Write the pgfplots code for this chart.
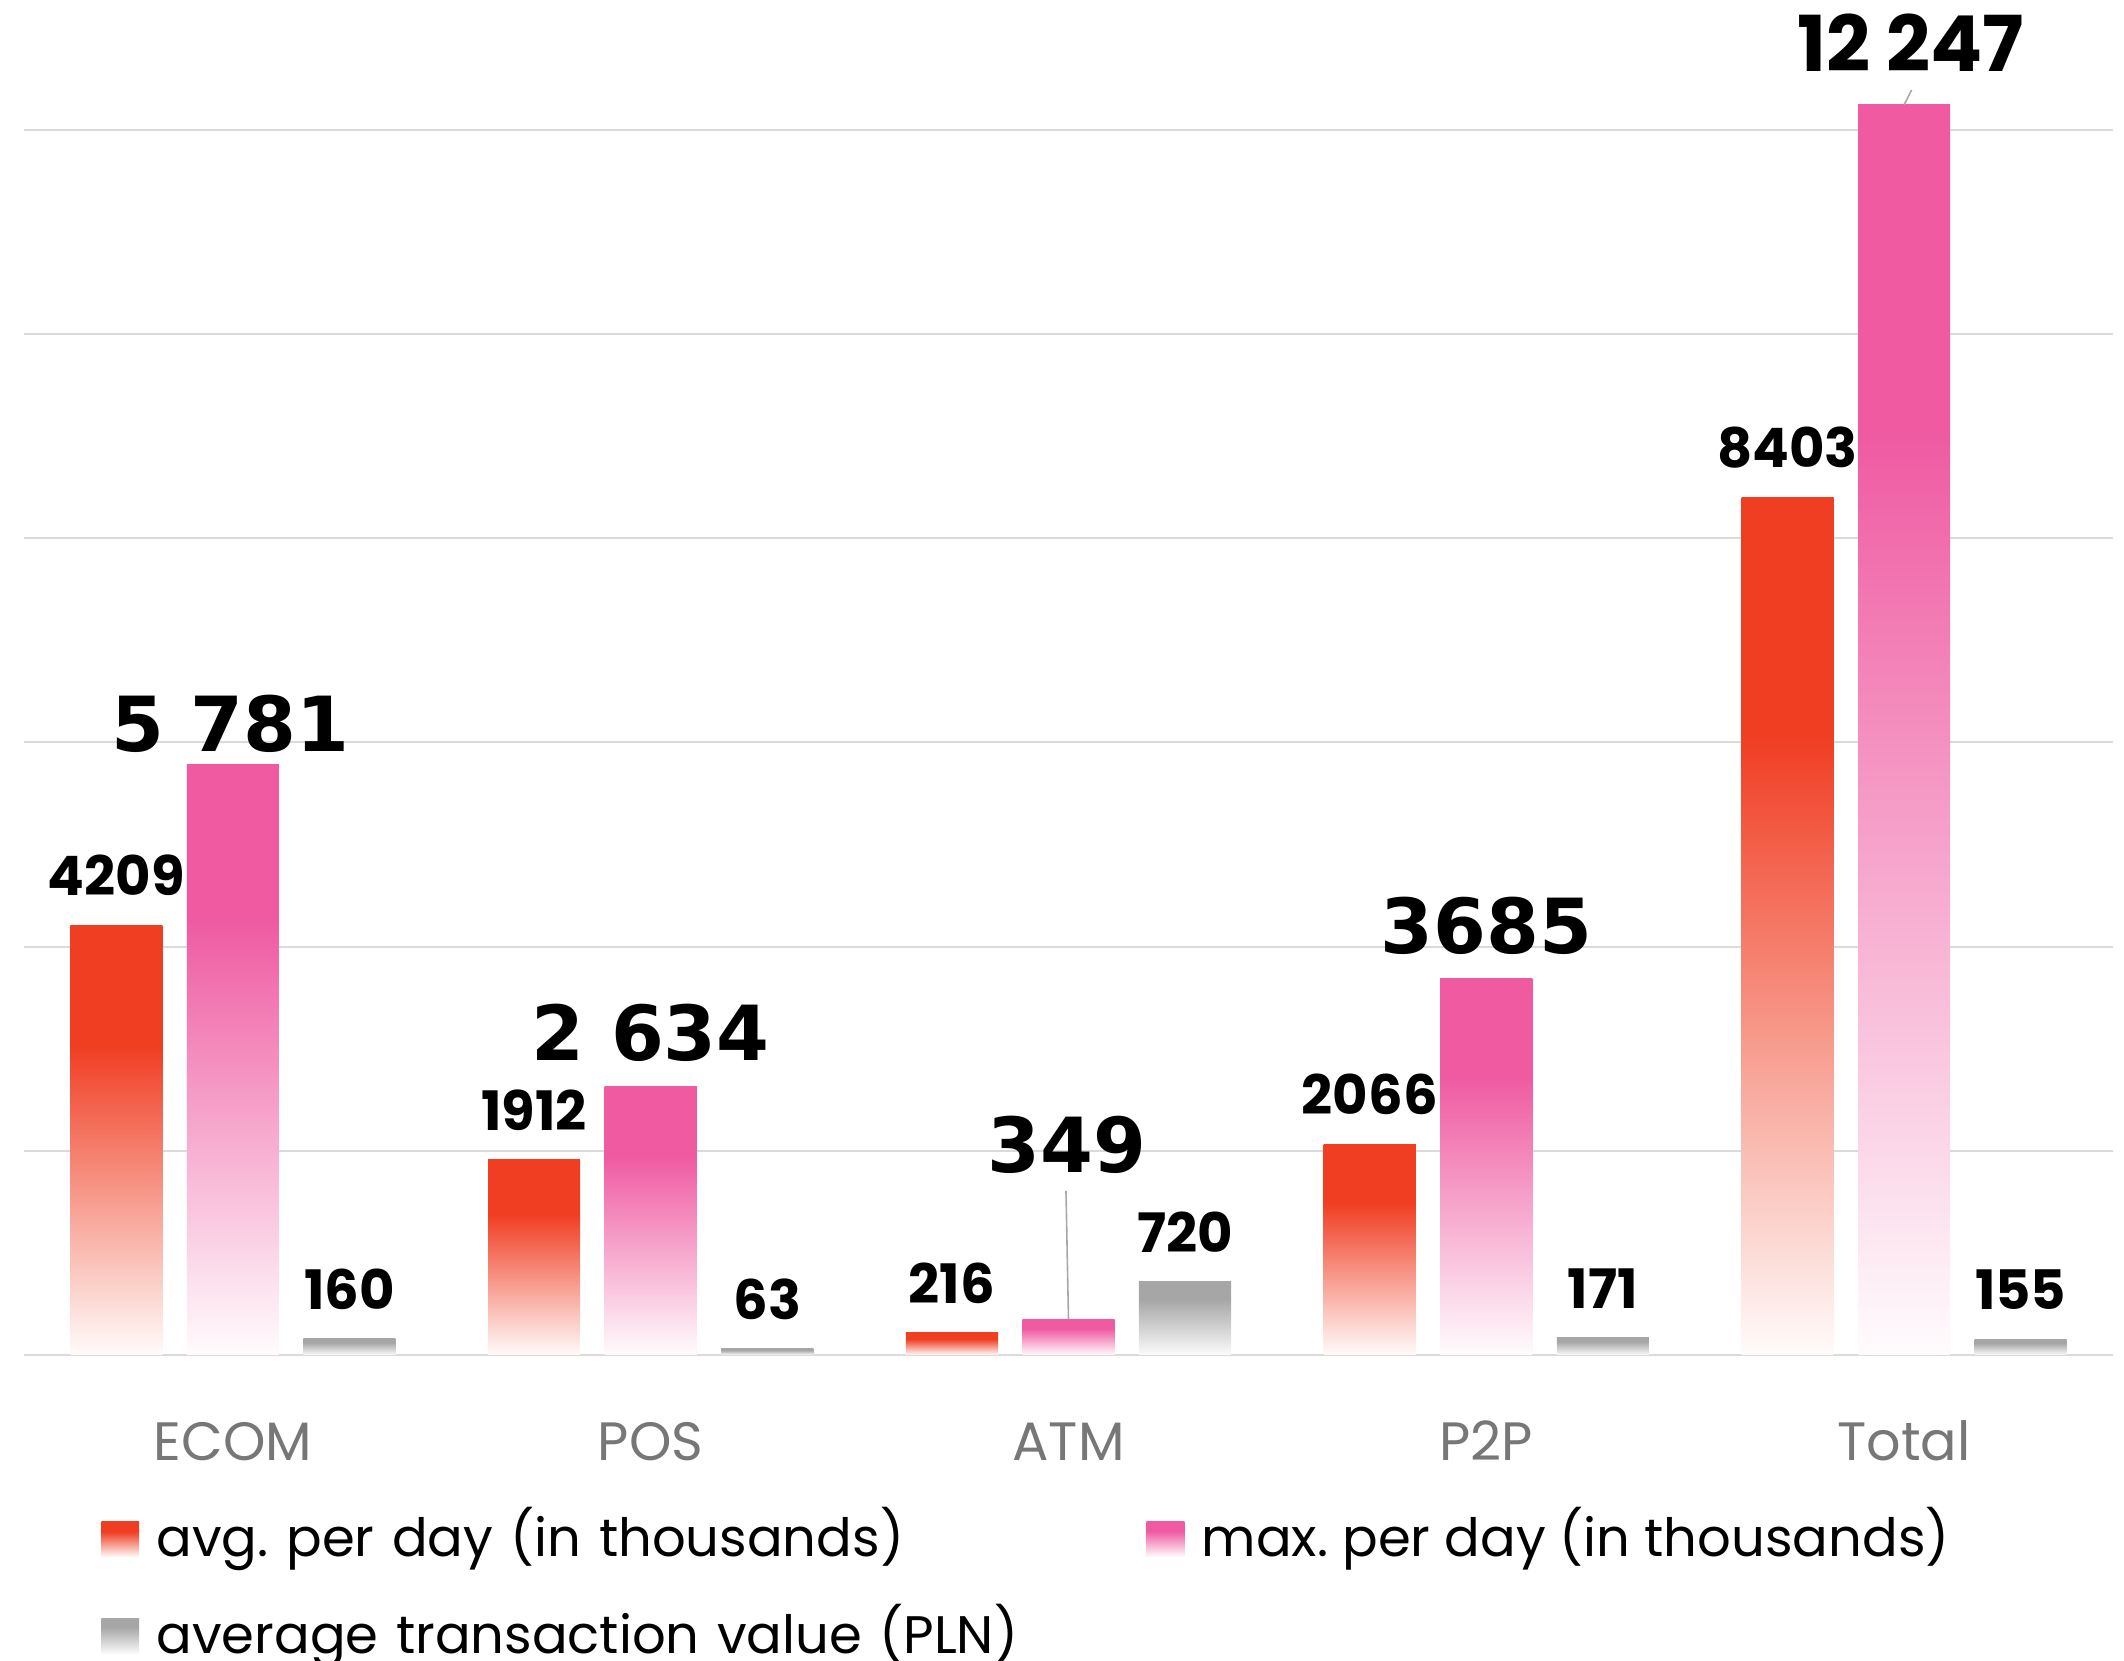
\documentclass[border=0pt]{standalone}
\usepackage{fontspec}
\setmainfont{Poppins}
\newfontfamily\dvs{DejaVu Sans}
\usepackage{pgfplots}
\pgfplotsset{compat=1.18}

\definecolor{cred}{HTML}{F03E23}
\definecolor{cpink}{HTML}{EF5AA1}
\definecolor{cgray}{HTML}{A6A6A6}
\definecolor{cgrid}{HTML}{DADADA}
\definecolor{ctick}{HTML}{777777}
\definecolor{cline}{HTML}{A8A8A8}

% fade to white towards the bottom of each bar (path spans 25bp..75bp)
\pgfdeclareverticalshading{redfade}{100bp}{color(0bp)=(cred!2!white); color(25bp)=(cred!2!white); color(61bp)=(cred); color(100bp)=(cred)}
\pgfdeclareverticalshading{pinkfade}{100bp}{color(0bp)=(cpink!2!white); color(25bp)=(cpink!2!white); color(62bp)=(cpink); color(100bp)=(cpink)}
\pgfdeclareverticalshading{grayfade}{100bp}{color(0bp)=(cgray!4!white); color(25bp)=(cgray!4!white); color(63bp)=(cgray); color(100bp)=(cgray)}

\newcommand\smlab{\bfseries\fontsize{13.6}{16}\selectfont}
\newcommand\biglab{\dvs\bfseries\fontsize{19}{22}\selectfont}
\newcommand\toplab{\bfseries\fontsize{19.3}{23}\selectfont}

\pgfplotsset{
    barbase/.style={ybar, bar width=23.03pt, draw=none, shade,
        nodes near coords, point meta=explicit symbolic},
    redbar/.style={barbase, bar shift=-29.13pt, shading=redfade,
        every node near coord/.append style={xshift=-29.13pt},
        legend image code/.code={\path[shade, shading=redfade] (0pt,-4pt) rectangle (9.4pt,4.75pt);}},
    pinkbar/.style={ybar, bar width=23.03pt, draw=none, shade, bar shift=0pt, shading=pinkfade,
        legend image code/.code={\path[shade, shading=pinkfade] (0pt,-4pt) rectangle (9.4pt,4.75pt);}},
    graybar/.style={barbase, bar shift=29.13pt, shading=grayfade,
        every node near coord/.append style={xshift=29.13pt},
        legend image code/.code={\path[shade, shading=grayfade] (0pt,-4pt) rectangle (9.4pt,4.75pt);}},
}

\begin{document}
\frenchspacing
\begin{tikzpicture}
\begin{axis}[
    scale only axis,
    width=522.25pt, height=306.25pt,
    xmin=-0.5, xmax=4.5, ymin=0, ymax=12000,
    clip=false,
    axis line style={draw=none},
    tick style={draw=none},
    major tick length=0pt,
    ytick={0,2000,...,12000},
    yticklabels={},
    scaled y ticks=false,
    ymajorgrids,
    grid style={cgrid, line width=0.5pt},
    xtick={0,1,2,3,4},
    xticklabels={ECOM,POS,ATM,P2P,Total},
    xticklabel style={font=\fontsize{13.5}{16}\selectfont, text=ctick, anchor=base, yshift=-26.3pt, inner sep=0pt},
    every node near coord/.append style={font=\smlab, text=black, anchor=base, yshift=7.35pt, inner sep=0pt},
    legend columns=2,
    legend style={draw=none, fill=none, inner sep=0pt, outer sep=0pt,
        at={(0.0371,-0.1257)}, anchor=north west,
        font=\fontsize{13.2}{16}\selectfont,
        nodes={inner sep=0pt, outer sep=0pt, text height=12pt, text depth=4pt},
        row sep=8.2pt,
        /tikz/every odd column/.append style={column sep=4.4pt},
        /tikz/column 2/.style={nodes={text width=247.5pt, align=left}}},
]
% avg. per day (in thousands)
\addplot[redbar] coordinates {(0,4209)[4209]};
\addlegendentry{avg. per day (in thousands)}
% max. per day (in thousands)
\addplot[pinkbar] coordinates {(0,5781)};
\addlegendentry{max. per day (in thousands)}
% average transaction value (PLN)
\addplot[graybar] coordinates {(0,160)[160]};
\addlegendentry{average transaction value (PLN)}

\addplot[redbar, forget plot] coordinates {(1,1912)[1912]};
\addplot[redbar, forget plot] coordinates {(2,216)[216]};
\addplot[redbar, forget plot] coordinates {(3,2066)[2066]};
\addplot[redbar, forget plot] coordinates {(4,8403)[8403]};

\addplot[pinkbar, forget plot] coordinates {(1,2634)};
\addplot[pinkbar, forget plot] coordinates {(2,349)};
\addplot[pinkbar, forget plot] coordinates {(3,3685)};
\addplot[pinkbar, forget plot] coordinates {(4,12247)};

\addplot[graybar, forget plot] coordinates {(1,63)[63]};
\addplot[graybar, forget plot] coordinates {(2,720)[720]};
\addplot[graybar, forget plot] coordinates {(3,171)[171]};
\addplot[graybar, forget plot] coordinates {(4,155)[155]};

% labels of the max. per day series
\node[font=\biglab, anchor=base, yshift=3.4pt, xshift=-0.6pt] at (axis cs:0,5781) {5 781};
\node[font=\biglab, anchor=base, yshift=6.4pt] at (axis cs:1,2634) {2 634};
\node[font=\biglab, anchor=base, yshift=6.4pt] at (axis cs:3,3685) {3685};
\draw[cline, line width=0.4pt] (axis cs:2,349) -- (axis cs:1.994,1607);
\node[font=\biglab, anchor=base] at (axis cs:1.997,1783) {349};
\draw[cline, line width=0.4pt] (axis cs:4,12247) -- (axis cs:4.018,12392);
\node[font=\toplab, anchor=base] at (axis cs:4.016,12571) {12 247};
\end{axis}
\pgfresetboundingbox
\path[use as bounding box] (-6pt,-76.5pt) rectangle (525pt,338.75pt);
\end{tikzpicture}
\end{document}
